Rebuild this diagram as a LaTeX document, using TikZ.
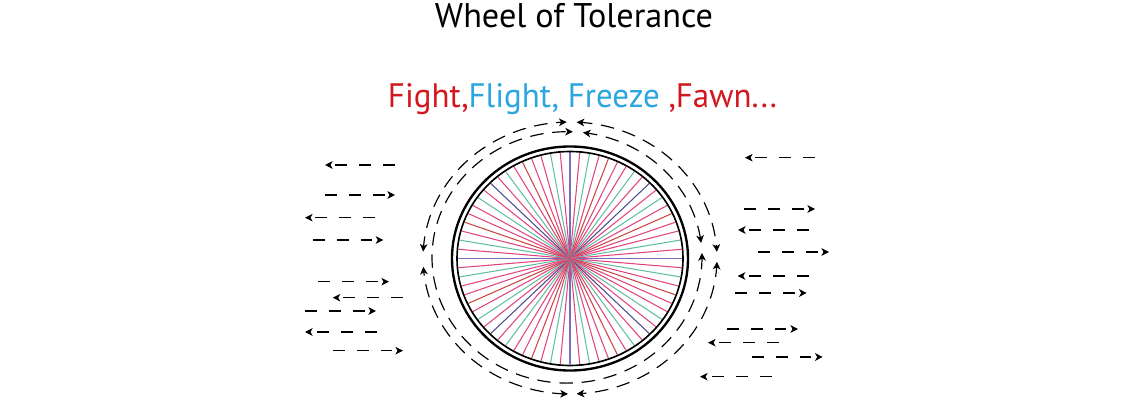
\documentclass[tikz,border=0pt]{standalone}
\usepackage{graphicx}
\usepackage{fontspec}
\setmainfont{PT Sans}
\usetikzlibrary{arrows.meta}
\definecolor{tred}{HTML}{D2171F}
\definecolor{tblue}{HTML}{2BA6DE}
\definecolor{spP}{HTML}{7B6CC0}
\definecolor{spD}{HTML}{4C4D8F}
\definecolor{spK}{HTML}{E0457E}
\definecolor{spG}{HTML}{62C0A0}
\definecolor{spR}{HTML}{C9473F}
\begin{document}
\begin{tikzpicture}[x=0.03cm,y=-0.03cm,
  tip/.tip={Stealth[length=6.5pt,width=6.5pt,inset=1.8pt]},
  sidearrow/.style={line width=1.1pt, dash pattern=on 10.2pt off 10.2pt, -tip},
  ringboth/.style={line width=1pt, dash pattern=on 11.5pt off 7.5pt, tip-tip},
  spoke/.style={line width=0.9pt}]
\useasboundingbox (0,0) rectangle (1135,400);
% titles
\node[anchor=base,inner sep=0pt] (title) at (574,28) {\resizebox{237.3pt}{!}{Wheel of Tolerance}};
\node[anchor=base,inner sep=0pt] (sub) at (582.5,108) {\resizebox{332pt}{20.5pt}{\textcolor{tred}{Fight,}\textcolor{tblue}{Flight, Freeze }\textcolor{tred}{,Fawn...}}};
% spokes
\coordinate (W) at (570,258.5);
\foreach \k in {0,...,71}{
  \pgfmathtruncatemacro\m{mod(\k,9)}
  \pgfmathtruncatemacro\q{mod(\k,18)}
  \ifnum\m=0
    \ifnum\q=9 \def\col{spD}\else\def\col{spP}\fi
  \else
    \ifcase\m\or\def\col{spK}\or\def\col{spG}\or\def\col{spK}\or\def\col{spR}\or\def\col{spK}\or\def\col{spK}\or\def\col{spG}\or\def\col{spK}\fi
  \fi
  \draw[spoke,draw=\col] (W) -- ({570+112*cos(\k*5)},{258.5+106*sin(\k*5)});
}
% rim
\draw[line width=1.4pt] (W) ellipse [x radius=3.39cm, y radius=3.21cm];
\draw[line width=2pt] (W) ellipse [x radius=3.54cm, y radius=3.36cm];
% outer dashed ring
\draw[ringboth] plot[domain=182.7:268.7,samples=60] ({570+147*cos(\x)},{258+136*sin(\x)});
\draw[ringboth] plot[domain=272.6:357.4,samples=60] ({570+147*cos(\x)},{258+136*sin(\x)});
\draw[ringboth] plot[domain=1.6:87.4,samples=60] ({570+147*cos(\x)},{258+136*sin(\x)});
\draw[ringboth] plot[domain=90.8:176.3,samples=60] ({570+147*cos(\x)},{258+136*sin(\x)});
% inner dashed ring
\draw[ringboth] plot[domain=276.8:353.4,samples=60] ({567+135*cos(\x)},{257.4+125.7*sin(\x)});
\draw[ringboth] plot[domain=358:632.5,samples=150] ({567+135*cos(\x)},{257.4+125.7*sin(\x)});
% side arrows
\foreach \a/\b/\y [count=\i] in {395/325/165, 325/395/195, 375/305/217.7, 312.7/383.3/240, 318/389/281.7, 403/332.7/297.7, 305/376/311, 377/305/332, 332.7/403/350.7,
  815/745/157.7, 744/815/209, 809/738/230, 758/829/252, 809/737.7/276, 735/806.7/293, 726.7/798/329, 779/708/342.7, 751.7/822.7/357, 771.7/700/376.7}{
  \coordinate (t\i) at (\a,\y);
  \coordinate (h\i) at (\b,\y);
  \draw[sidearrow] (t\i) -- (h\i);
}
\end{tikzpicture}
\end{document}
